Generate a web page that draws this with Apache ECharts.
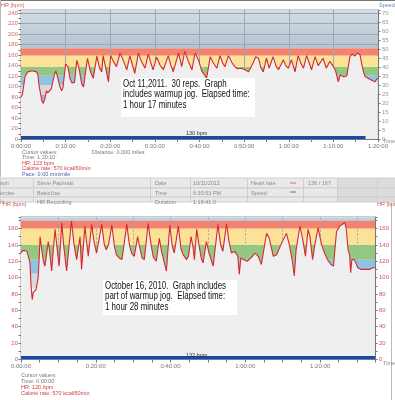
<!DOCTYPE html>
<html><head><meta charset="utf-8">
<script src="https://cdn.jsdelivr.net/npm/echarts@6/dist/echarts.min.js"></script>
<style>html,body{margin:0;padding:0;background:#fff}#c{width:395px;height:400px}</style>
</head><body><div id="c"></div>
<script>
// ---------- DATA ----------
// Top chart (Oct 11, 2011): [minutes, HR bpm]
const topHR = [[0,80],[0.3,84],[0.9,119],[1.5,128],[2.5,130],[3.5,128],[3.8,122],[4.0,104],[4.3,90],[4.7,72],[5.0,68],[5.3,75],[5.7,92],[6.0,88],[6.4,91],[6.8,96],[7.4,120],[7.8,130],[8.2,118],[8.7,100],[9.1,92],[9.4,98],[10.0,143],[10.5,138],[11.0,115],[11.4,107],[12.0,108],[12.5,150],[13.0,135],[13.6,105],[14.0,99],[14.9,154],[15.5,130],[16.2,116],[17.0,158],[17.6,135],[18.1,128],[18.4,159],[19.0,135],[19.6,109],[20.1,159],[20.7,148],[21.4,138],[22.2,164],[23.0,148],[23.7,132],[24.4,159],[25.0,140],[25.5,125],[26.3,164],[27.0,148],[27.8,135],[28.5,162],[29.1,145],[29.6,132],[30.4,156],[31.2,140],[31.9,132],[33.0,159],[33.6,140],[34.1,128],[35.3,164],[35.7,150],[36.0,138],[36.7,167],[37.5,148],[38.3,132],[39.0,164],[39.8,150],[40.5,130],[41.6,116],[42.4,157],[43.1,145],[43.9,135],[44.6,159],[45.2,145],[45.7,138],[46.5,159],[47.3,145],[48.0,137],[48.5,134],[49.3,135],[50.2,132],[51.0,128],[52.0,145],[52.6,157],[53.2,154],[53.8,135],[54.3,128],[55.0,154],[55.6,135],[56.5,157],[57.1,140],[57.7,132],[58.8,151],[59.3,140],[59.9,135],[60.6,151],[61.4,128],[62.1,159],[62.7,145],[63.3,135],[64.0,159],[64.6,145],[65.1,132],[65.9,157],[66.6,140],[67.7,154],[68.4,135],[69.2,148],[70.0,138],[70.5,130],[71.1,109],[71.5,122],[72.2,119],[73.0,120],[73.7,157],[74.2,162],[74.8,158],[75.4,164],[76.0,160],[76.3,145],[76.7,130],[77.1,119],[77.8,116],[78.6,112],[79.3,109],[79.9,116]];
const topSpeedBar = [[0,0.8],[77.2,0.8]];
// Bottom chart (Oct 16, 2010): [minutes, HR bpm]
const botHR = [[0,130],[0.4,133],[1.0,133],[1.6,132],[2.0,130],[2.4,118],[2.7,90],[3.0,73],[3.3,82],[3.7,84],[4.0,85],[4.3,87],[4.6,100],[4.9,128],[5.1,150],[5.5,135],[6.0,120],[6.4,114],[7.3,144],[7.7,130],[8.2,108],[9.1,159],[9.6,138],[10.2,114],[10.9,167],[11.4,140],[12.2,108],[13.5,169],[14.2,140],[14.9,122],[15.8,150],[16.2,110],[17.1,163],[17.5,145],[18.0,126],[18.9,165],[19.5,145],[20.2,130],[21.6,165],[22.3,140],[22.8,134],[23.4,140],[24.3,164],[25.0,138],[25.5,128],[26.3,124],[27.0,122],[28.3,165],[29.0,140],[29.6,130],[30.3,126],[31.2,150],[31.7,138],[32.4,124],[33.0,122],[34.0,166],[34.8,140],[35.4,125],[36.2,120],[37.0,148],[37.6,132],[38.9,108],[39.8,164],[40.5,138],[41.0,130],[42.1,163],[42.8,135],[43.4,128],[44.3,122],[44.8,126],[45.5,150],[46.0,138],[46.4,122],[47.0,159],[47.6,140],[48.3,122],[48.7,118],[49.6,144],[50.3,130],[51.0,120],[51.4,114],[52.7,165],[53.4,140],[54.0,132],[55.0,166],[55.6,145],[56.3,130],[57.2,132],[58.0,126],[58.4,104],[58.8,124],[59.5,122],[60.5,120],[61.5,124],[62.6,130],[63.5,126],[64.3,116],[65.7,154],[66.4,148],[67.5,126],[68.4,128],[69.5,140],[71.0,154],[71.8,140],[72.6,120],[73.1,102],[73.6,134],[74.6,163],[75.4,146],[76.1,126],[76.8,159],[77.3,150],[78.0,122],[78.6,140],[79.5,161],[80.4,140],[81.2,130],[82.0,122],[82.9,116],[83.6,114],[84.0,116],[84.4,156],[85.3,163],[85.8,165],[86.6,167],[87.0,160],[87.5,134],[87.9,128],[88.2,106],[88.5,122],[89.2,122],[90.1,112],[91.0,110],[92.3,110],[93.2,110],[94.1,112],[94.7,112]];
const botBar = [[0,2],[94.7,2]];
// Heart-rate zone limits (bpm)
const topZoneBounds = [65, 84, 103, 121, 138, 159, 173, 246];
const botZoneBounds = [88, 105, 122, 140, 160, 169, 174];
const zoneColors = ['#b4a8ea', '#d9d9d9', '#8ec3e3', '#94c77f', '#fbe297', '#f4826e'];
const topTimeMax = 80, botTimeMax = 94.7;
const topHRMax = 246, botHRMax = 174;
const topSpeedMax = 71.75;

// ---------- HELPERS ----------
const grad = {type:'linear',x:0,y:0,x2:0,y2:1,colorStops:[{offset:0,color:'#d4dde7'},{offset:1,color:'#b6c3d0'}]};
function zones(bounds, colors){
  const out=[];
  const startIdx = colors.length - (bounds.length - 2);
  for(let i=0;i<bounds.length-1;i++){
    const isTop = i===bounds.length-2;
    const col = isTop ? grad : colors[startIdx+i];
    out.push([{yAxis:bounds[i],itemStyle:{color:col}},{yAxis:bounds[i+1]}]);
  }
  return out;
}
function fmtTime(v){const h=Math.floor(v/60),m=Math.round(v%60);return h+':'+String(m).padStart(2,'0')+':00';}
const small = {fontFamily:'Liberation Sans, Arial', fontSize:6};

const topVLines = [10,20,30,40,50,60,70].map(v=>({xAxis:v}));
const topHLines = [180,200,220,240].map(v=>({yAxis:v}));
const botVLines = [10,20,30,40,50,60,70,80,90].map(v=>({xAxis:v}));

const chart = echarts.init(document.getElementById('c'), null, {renderer:'canvas'});
const T = (x,y,text,color,extra)=>Object.assign({type:'text',x:x,y:y,z:100,style:Object.assign({text:text,fill:color||'#888',font:'5.5px "Liberation Sans", Arial'},extra||{})});
const R = (x,y,w,h,fill,stroke)=>({type:'rect',z:90,shape:{x:x,y:y,width:w,height:h},style:{fill:fill,stroke:stroke||null,lineWidth:1}});
const L = (x1,y1,x2,y2,color)=>({type:'line',z:95,shape:{x1:x1,y1:y1,x2:x2,y2:y2},style:{stroke:color,lineWidth:1}});

// table
const cols=[0,33,150,190,247,303,337,377,395];
const rows=[177.5,187.5,196.5,201.5];
const tableEls=[];
for(let r=0;r<3;r++){
  for(let c=0;c<8;c++){
    const dark = c>=6;
    tableEls.push(R(cols[c]+0.5,rows[r]+0.5,cols[c+1]-cols[c],rows[r+1]-rows[r],dark?'#dcdcdc':'#e9e9e9','#cfcfcf'));
  }
}
const tableTxt=[
  ['son','Steve Papinski','Date','10/11/2011','Heart rate','','136 / 167'],
  ['ercise','BasicUse','Time','6:30:53 PM','Speed','',''],
  ['nt','HR Recording','Duration','1:16:41.0','','','']
];
const tx=[0,37,155,193,251,0,308];
tableTxt.forEach((row,ri)=>row.forEach((t,ci)=>{ if(t) tableEls.push(T(tx[ci],rows[ri]+3,t,'#8a8a8a')); }));
tableEls.push(L(290,183,296,183,'#e06070'));
tableEls.push(L(290,192,296,192,'#5070c0'));

const annFont = '11px "Liberation Sans", Arial';
const graphics = [
  L(0,0.5,395,0.5,'#777'),
  L(0.5,0,0.5,177,'#bbb'),
  L(391.5,203,391.5,400,'#bbb'),
  T(1,2,'HR [bpm]','#d06060'),
  T(379,2,'Speed [km/h]','#6a88b8'),
  T(383,138,'Time','#888'),
  T(186,130.5,'130 bpm','#333'),
  T(22,149,'Cursor values:','#777'),
  T(92,149,'Distance: 0.000 miles','#777'),
  T(22,154.5,'Time: 1:20:10','#777'),
  T(22,160,'HR: 123 bpm','#d04040'),
  T(22,165.5,'Calorie rate: 570 kcal/60min','#d04040'),
  T(22,171,'Pace: 0:00 min/mile','#4a60b0'),
  ...tableEls,
  T(3,201,'HR [bpm]','#d06060'),
  T(377,201,'HR [bpm]','#d06060'),
  T(383,360,'Time','#888'),
  T(186,352,'132 bpm','#333'),
  T(21,372,'Cursor values:','#777'),
  T(21,378,'Time: 0:00:00','#777'),
  T(21,384,'HR: 120 bpm','#d04040'),
  T(21,390,'Calorie rate: 570 kcal/60min','#d04040'),
  // annotations
  R(121,78,134,39,'#ffffff'),
  {type:'text',x:123,y:78.5,z:100,scaleX:0.72,style:{text:'Oct 11,2011.  30 reps.  Graph\nincludes warmup jog.  Elapsed time:\n1 hour 17 minutes',fill:'#111',font:annFont,lineHeight:10.5}},
  R(103,280,134,35,'#ffffff'),
  {type:'text',x:105,y:281,z:100,scaleX:0.72,style:{text:'October 16, 2010.  Graph includes\npart of warmup jog.  Elapsed time:\n1 hour 28 minutes',fill:'#111',font:annFont,lineHeight:10.2}}
];

const axisLineGrey = {show:true,lineStyle:{color:'#777',width:1}};
const option = {
  animation:false,
  backgroundColor:'#ffffff',
  grid:[
    {left:21,top:10,width:357,height:129,show:true,backgroundColor:'#efefef',borderColor:'#999',borderWidth:1},
    {left:21,top:217,width:354,height:142.5,show:true,backgroundColor:'#efefef',borderColor:'#999',borderWidth:1}
  ],
  xAxis:[
    {type:'value',gridIndex:0,min:0,max:topTimeMax,interval:5,axisLine:axisLineGrey,
     axisTick:{show:true,length:3,lineStyle:{color:'#777'}},splitLine:{show:false},
     axisLabel:Object.assign({color:'#777',margin:4,formatter:v=>v%10===0?fmtTime(v):''},small)},
    {type:'value',gridIndex:1,min:0,max:botTimeMax,interval:5,axisLine:axisLineGrey,
     axisTick:{show:true,length:3,lineStyle:{color:'#777'}},splitLine:{show:false},
     axisLabel:Object.assign({color:'#777',margin:4,formatter:v=>v%20===0?fmtTime(v):''},small)}
  ],
  yAxis:[
    {type:'value',gridIndex:0,min:0,max:topHRMax,interval:10,axisLine:axisLineGrey,
     axisTick:{show:true,length:2.5,lineStyle:{color:'#777'}},splitLine:{show:false},
     axisLabel:Object.assign({color:'#c87070',margin:3,formatter:v=>v%20===0?v:''},small)},
    {type:'value',gridIndex:0,position:'right',min:0,max:topSpeedMax,interval:5,axisLine:axisLineGrey,
     axisTick:{show:true,length:2.5,lineStyle:{color:'#777'}},splitLine:{show:false},
     axisLabel:Object.assign({color:'#999',margin:4,formatter:v=>v%5===0?v:''},small)},
    {type:'value',gridIndex:1,min:0,max:botHRMax,interval:10,axisLine:axisLineGrey,
     axisTick:{show:true,length:2.5,lineStyle:{color:'#777'}},splitLine:{show:false},
     axisLabel:Object.assign({color:'#cc5555',margin:3,formatter:v=>v%20===0?v:''},small)},
    {type:'value',gridIndex:1,position:'right',min:0,max:botHRMax,interval:10,axisLine:axisLineGrey,
     axisTick:{show:true,length:2.5,lineStyle:{color:'#777'}},splitLine:{show:false},
     axisLabel:Object.assign({color:'#cc5555',margin:4,formatter:v=>v%20===0?v:''},small)}
  ],
  series:[
    {type:'line',xAxisIndex:0,yAxisIndex:0,data:topHR,symbol:'none',z:2,
     lineStyle:{color:'#d6282e',width:1.1},areaStyle:{color:'#efefef',opacity:1,origin:'start'},
     markArea:{silent:true,z:1,data:zones(topZoneBounds,zoneColors)},
     markLine:{silent:true,z:1.5,symbol:'none',label:{show:false},lineStyle:{color:'#9aa8b6',type:'solid',width:1},data:[...topVLines,...topHLines]}},
    {type:'line',xAxisIndex:0,yAxisIndex:1,data:topSpeedBar,symbol:'none',z:3,lineStyle:{color:'#1b49a8',width:3}},
    {type:'line',xAxisIndex:1,yAxisIndex:2,data:botHR,symbol:'none',z:2,
     lineStyle:{color:'#d6282e',width:1.1},areaStyle:{color:'#efefef',opacity:1,origin:'start'},
     markArea:{silent:true,z:1,data:zones(botZoneBounds,zoneColors.slice(1))},
     markLine:{silent:true,z:1.5,symbol:'none',label:{show:false},lineStyle:{color:'#9aa8b6',type:[2,2],width:1},data:botVLines}},
    {type:'line',xAxisIndex:1,yAxisIndex:2,data:botBar,symbol:'none',z:3,lineStyle:{color:'#1b49a8',width:3.5}}
  ],
  graphic:graphics
};
chart.setOption(option);
</script></body></html>
